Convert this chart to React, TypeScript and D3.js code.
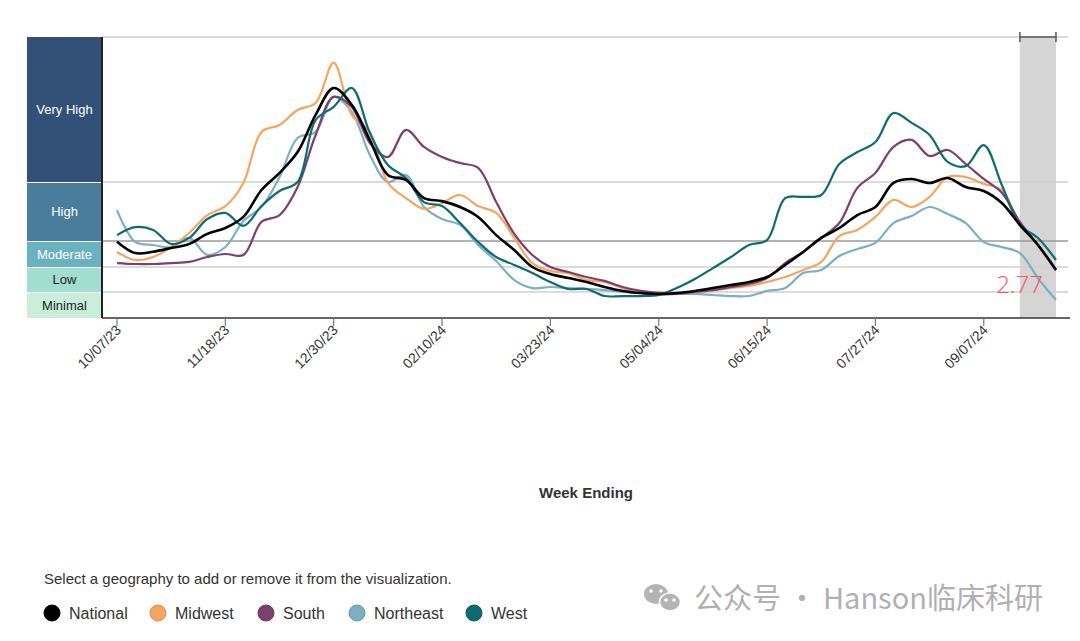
import { useEffect, useRef } from "react";
import * as d3 from "d3";

// weekly wastewater viral activity level, week ending 10/07/23 .. 10/05/24
const national = [
  5.25, 4.42, 4.52, 4.79, 5.08, 5.6, 5.85, 6.32, 7.46, 8.19, 9.08, 10.67, 11.82,
  11.1, 9.6, 8.1, 7.89, 7.12, 6.99, 6.74, 6.32, 5.55, 4.64, 3.4, 3.01, 2.78, 2.56,
  2.28, 2.06, 1.92, 1.85, 1.92, 2.06, 2.22, 2.39, 2.56, 2.84, 3.55, 4.5, 5.43, 5.85,
  6.4, 6.74, 7.76, 7.93, 7.76, 7.97, 7.59, 7.42, 6.91, 5.98, 5.01, 3.23,
];
const midwest = [
  4.5, 3.91, 4.13, 4.86, 5.64, 6.4, 6.78, 7.76, 9.94, 10.24, 10.88, 11.18, 12.89,
  10.67, 9.94, 7.76, 7.12, 6.66, 6.91, 7.25, 6.78, 6.49, 5.43, 3.69, 3.18, 3.06, 2.67,
  2.56, 2.22, 2.0, 2.0, 1.92, 2.0, 2.11, 2.22, 2.34, 2.56, 2.84, 3.23, 3.77, 5.51,
  5.77, 6.32, 7.04, 6.74, 7.17, 8.01, 8.01, 7.72, 7.46, 6.06, 5.01, 3.23,
];
const south = [
  3.69, 3.62, 3.62, 3.69, 3.77, 4.13, 4.35, 4.28, 6.11, 6.4, 7.59, 9.81, 11.44,
  11.01, 9.47, 8.87, 10.03, 9.3, 8.87, 8.61, 8.4, 6.95, 5.6, 4.28, 3.4, 3.12, 2.84,
  2.62, 2.28, 2.06, 1.92, 1.85, 2.0, 2.11, 2.28, 2.45, 2.78, 3.69, 4.5, 5.43, 6.06,
  7.55, 8.19, 9.3, 9.6, 8.91, 9.17, 8.57, 7.93, 7.34, 6.11, 5.01, 3.23,
];
const northeast = [
  6.61, 5.23, 5.01, 4.86, 5.43, 4.28, 4.86, 6.15, 6.74, 8.01, 9.68, 9.94, 11.44,
  10.8, 8.96, 7.8, 8.1, 6.74, 6.23, 5.98, 5.01, 3.84, 2.67, 2.22, 2.28, 2.22, 2.17,
  2.11, 2.0, 1.92, 1.77, 1.85, 1.85, 1.77, 1.69, 1.69, 2.06, 2.22, 3.06, 3.23, 4.2,
  4.72, 5.16, 6.06, 6.36, 6.74, 6.44, 6.06, 5.23, 4.86, 4.42, 2.78, 1.38,
];
const west = [
  5.55, 5.89, 5.77, 5.08, 5.43, 6.23, 6.49, 5.94, 6.78, 7.42, 7.8, 10.45, 11.01,
  11.82, 9.9, 8.53, 7.97, 6.95, 6.78, 6.06, 5.23, 4.13, 3.55, 3.06, 2.56, 2.17, 2.17,
  1.69, 1.69, 1.69, 1.77, 2.22, 2.73, 3.34, 4.13, 5.01, 5.34, 7.12, 7.17, 7.25, 8.57,
  9.08, 9.51, 10.75, 10.33, 9.81, 8.66, 8.48, 9.38, 7.67, 5.98, 5.43, 3.91,
];

const firstWeek = new Date(2023, 9, 7);
const tickLabels = [
  "10/07/23", "11/18/23", "12/30/23", "02/10/24", "03/23/24",
  "05/04/24", "06/15/24", "07/27/24", "09/07/24",
];
const levelNames = ["Minimal", "Low", "Moderate", "High", "Very High"];
const levelBreaks = [0, 2, 3.4, 5.3, 7.8, 14];
const levelColors = ["#c9efdb", "#a2ddd2", "#6ab2bf", "#4a7c9b", "#335177"];
const levelText = ["#222", "#222", "#fff", "#fff", "#fff"];

const seriesNames = ["National", "Midwest", "South", "Northeast", "West"];
const seriesColors = ["#000000", "#f6a561", "#7c406e", "#7bafc3", "#0e6b72"];
const seriesData = [national, midwest, south, northeast, west];
const drawOrder = [3, 1, 2, 4, 0];
const lastLabel = "2.77";

const legendX = [52, 158, 266, 357, 474];

export default function App() {
  const ref = useRef<SVGSVGElement | null>(null);

  useEffect(() => {
    const svg = d3.select(ref.current);
    svg.selectAll("*").remove();
    const font = "Arial, 'Liberation Sans', sans-serif";

    const plotLeft = 102;
    const plotRight = 1070;
    const yStops = [318, 292, 267, 241, 182, 37];
    const plotTop = 37;
    const plotBottom = 318;

    const dates = national.map((_, i) => d3.timeDay.offset(firstWeek, i * 7));
    const x = d3
      .scaleTime()
      .domain([dates[0], dates[dates.length - 1]])
      .range([117, 1056]);
    const y = d3.scaleLinear().domain(levelBreaks).range(yStops);

    // shaded (incomplete) weeks
    const bandStart = x(dates[dates.length - 3]);
    const bandEnd = x(dates[dates.length - 1]);
    svg.append("rect")
      .attr("x", bandStart)
      .attr("y", plotTop)
      .attr("width", bandEnd - bandStart)
      .attr("height", plotBottom - plotTop)
      .attr("fill", "#d5d5d5");

    // level threshold lines
    levelBreaks.slice(1).forEach((b) => {
      svg.append("line")
        .attr("x1", plotLeft)
        .attr("x2", plotRight - 2)
        .attr("y1", y(b))
        .attr("y2", y(b))
        .attr("stroke", b === 5.3 ? "#9a9a9a" : "#cfcfcf")
        .attr("stroke-width", 1.3);
    });

    // level blocks on the left
    levelNames.forEach((name, i) => {
      const y0 = y(levelBreaks[i + 1]);
      const y1 = y(levelBreaks[i]);
      svg.append("rect")
        .attr("x", 27)
        .attr("y", y0 + (i === 4 ? 0 : 1))
        .attr("width", plotLeft - 27)
        .attr("height", y1 - y0 - (i === 4 ? 0 : 1))
        .attr("fill", levelColors[i]);
      svg.append("text")
        .attr("x", 64.5)
        .attr("y", (y0 + y1) / 2 + 4.5)
        .attr("text-anchor", "middle")
        .attr("font-family", font)
        .attr("font-size", 13)
        .attr("fill", levelText[i])
        .text(name);
    });

    // bracket above shaded weeks
    svg.append("line")
      .attr("x1", bandStart).attr("x2", bandEnd)
      .attr("y1", plotTop).attr("y2", plotTop)
      .attr("stroke", "#555").attr("stroke-width", 1.5);
    [bandStart, bandEnd].forEach((bx) => {
      svg.append("line")
        .attr("x1", bx).attr("x2", bx)
        .attr("y1", plotTop - 5).attr("y2", plotTop + 5)
        .attr("stroke", "#555").attr("stroke-width", 1.5);
    });

    // axes
    svg.append("line")
      .attr("x1", plotLeft).attr("x2", plotLeft)
      .attr("y1", plotTop).attr("y2", plotBottom)
      .attr("stroke", "#222").attr("stroke-width", 2);
    svg.append("line")
      .attr("x1", plotLeft).attr("x2", plotRight)
      .attr("y1", plotBottom).attr("y2", plotBottom)
      .attr("stroke", "#333").attr("stroke-width", 1.5);

    const tickDates = dates.filter((_, i) => i % 6 === 0);
    tickDates.forEach((d, i) => {
      const tx = x(d);
      svg.append("line")
        .attr("x1", tx).attr("x2", tx)
        .attr("y1", plotBottom).attr("y2", plotBottom + 8)
        .attr("stroke", "#777").attr("stroke-width", 1.2);
      svg.append("text")
        .attr("transform", `translate(${tx + 5},${plotBottom + 13}) rotate(-45)`)
        .attr("text-anchor", "end")
        .attr("font-family", font)
        .attr("font-size", 14)
        .attr("fill", "#333")
        .text(tickLabels[i]);
    });

    // series lines
    const line = d3
      .line<number>()
      .x((_, i) => x(dates[i]))
      .y((d) => y(d))
      .curve(d3.curveCatmullRom.alpha(0.5));
    drawOrder.forEach((k) => {
      svg.append("path")
        .attr("d", line(seriesData[k]))
        .attr("fill", "none")
        .attr("stroke", seriesColors[k])
        .attr("stroke-width", k === 0 ? 2.6 : 2.2)
        .attr("stroke-linejoin", "round");
    });

    svg.append("text")
      .attr("x", 1043)
      .attr("y", 293)
      .attr("text-anchor", "end")
      .attr("font-family", "'Open Sans', sans-serif")
      .attr("font-weight", 300)
      .attr("font-size", 24)
      .attr("fill", "#ff5064")
      .text(lastLabel);

    svg.append("text")
      .attr("x", 586)
      .attr("y", 498)
      .attr("text-anchor", "middle")
      .attr("font-family", font)
      .attr("font-weight", "bold")
      .attr("font-size", 15)
      .attr("fill", "#333")
      .text("Week Ending");

    // legend
    svg.append("text")
      .attr("x", 44)
      .attr("y", 584)
      .attr("font-family", font)
      .attr("font-size", 15)
      .attr("fill", "#333")
      .text("Select a geography to add or remove it from the visualization.");
    seriesNames.forEach((name, i) => {
      svg.append("circle")
        .attr("cx", legendX[i])
        .attr("cy", 613)
        .attr("r", 8)
        .attr("fill", seriesColors[i])
        .attr("stroke", d3.color(seriesColors[i])!.darker(0.4).toString())
        .attr("stroke-width", 1);
      svg.append("text")
        .attr("x", legendX[i] + 17)
        .attr("y", 619)
        .attr("font-family", font)
        .attr("font-size", 16)
        .attr("fill", "#333")
        .text(name);
    });

    // watermark
    const wm = svg.append("g").attr("fill", "#b4b4b4");
    wm.append("ellipse").attr("cx", 656).attr("cy", 594).attr("rx", 12).attr("ry", 10);
    wm.append("ellipse")
      .attr("cx", 670).attr("cy", 602).attr("rx", 10.5).attr("ry", 9)
      .attr("stroke", "#fff").attr("stroke-width", 1.5);
    [[651, 591], [661, 591], [666, 600], [674, 600]].forEach(([ex, ey]) => {
      wm.append("circle").attr("cx", ex).attr("cy", ey).attr("r", 1.8).attr("fill", "#fff");
    });
    svg.append("text")
      .attr("x", 694)
      .attr("y", 609)
      .attr("font-family", "'Noto Sans CJK SC', sans-serif")
      .attr("font-size", 29)
      .attr("fill", "#b0b0b0")
      .text("公众号 · Hanson临床科研");
  }, []);

  return (
    <div style={{ position: "absolute", left: 0, top: 0 }}>
      <svg ref={ref} width={1080} height={641} style={{ display: "block", background: "#fff" }} />
    </div>
  );
}
